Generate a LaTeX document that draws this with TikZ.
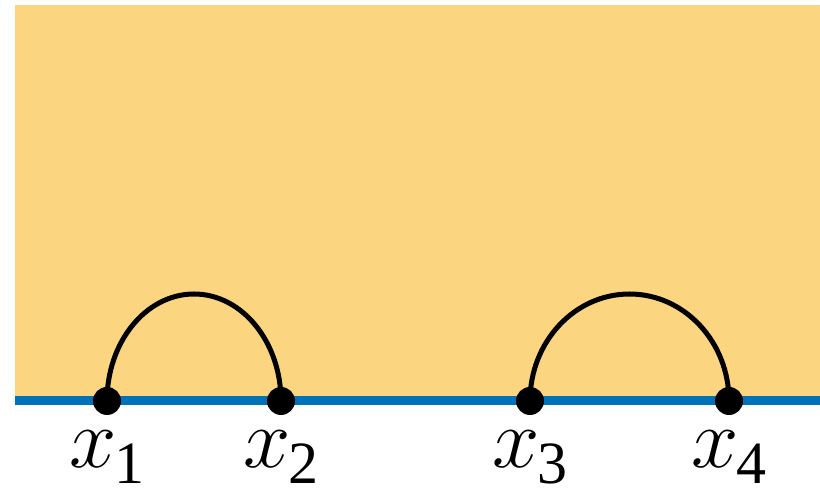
\RequirePackage{fix-cm}
\documentclass[tikz,border=0pt]{standalone}
\usepackage{fontspec}
\setmainfont{Liberation Serif}
\usepackage{tikz}
\usepackage{xcolor}
\usetikzlibrary{positioning,calc}
\definecolor{halfplane}{HTML}{FCD581}
\definecolor{edgeblue}{HTML}{0072B9}
\definecolor{ink}{HTML}{000000}
\tikzset{
  puncture/.style={
    circle, fill=ink, inner sep=0pt, minimum size=28pt
  },
  ptlabel/.style={
    anchor=base, inner sep=0pt, font=\fontsize{85}{90}\selectfont
  },
  chord/.style={draw=ink, line width=5pt}
}
\begin{document}
\begin{tikzpicture}[x=1pt,y=1pt]
      \useasboundingbox (0,0) rectangle (820,497);
      \fill[halfplane] (15,96) rectangle (820,492);
      \draw[edgeblue,line width=9pt] (15,96) -- (820,96);

      \foreach \i/\px in {1/107,2/281,3/530,4/729} {
        \coordinate (p\i) at (\px,96);
      }

      \draw[chord] (p1) arc[start angle=180,end angle=0,x radius=87,y radius=107];
      \draw[chord] (p3) arc[start angle=180,end angle=0,x radius=99.5,y radius=107];

      \foreach \i in {1,...,4} {
        \node[puncture] (d\i) at (p\i) {};
        \node[ptlabel] (l\i) at ($(p\i)+(0,-67)$) {$x$\kern-3pt\raisebox{-16pt}{\fontsize{60}{60}\selectfont \i}};
      }
    \end{tikzpicture}
\end{document}
